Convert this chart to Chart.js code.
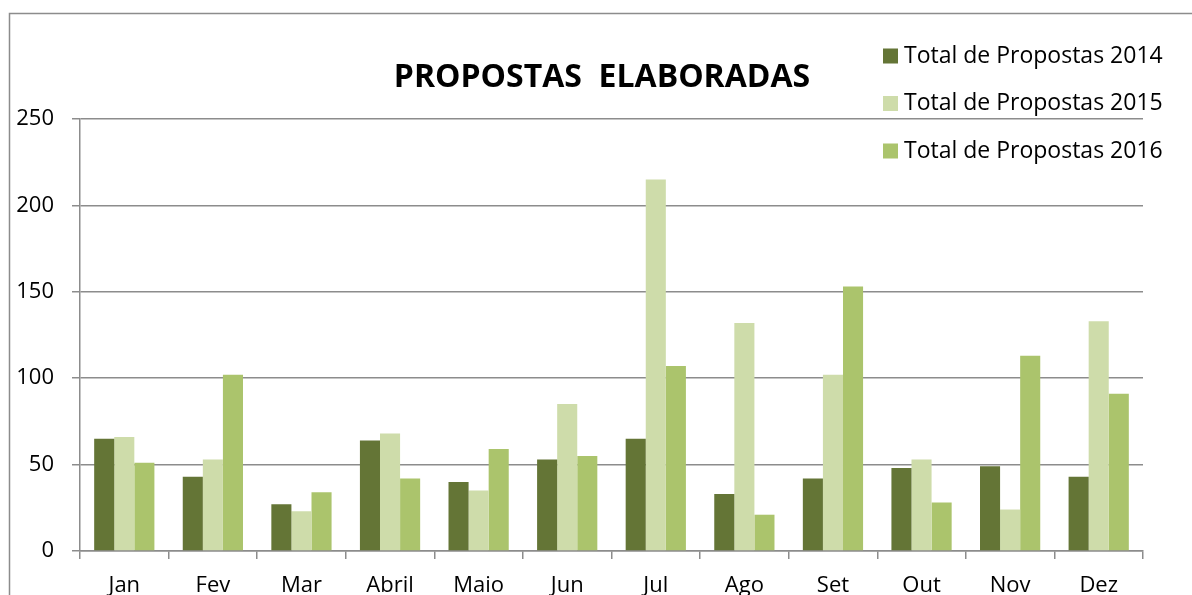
<!DOCTYPE html>
<html>
<head>
<meta charset="utf-8">
<script src="https://cdn.jsdelivr.net/npm/chart.js@4.4.0/dist/chart.umd.min.js"></script>
<style>
html, body { margin: 0; padding: 0; background: #fff; overflow: hidden; }
</style>
</head>
<body>
<canvas id="myChart" width="1192" height="620"></canvas>
<script>
// data
var meses = ['Jan', 'Fev', 'Mar', 'Abril', 'Maio', 'Jun', 'Jul', 'Ago', 'Set', 'Out', 'Nov', 'Dez'];
var total2014 = [65, 43, 27, 64, 40, 53, 65, 33, 42, 48, 49, 43];
var total2015 = [66, 53, 23, 68, 35, 85, 215, 132, 102, 53, 24, 133];
var total2016 = [51, 102, 34, 42, 59, 55, 107, 21, 153, 28, 113, 91];
var yTicks = [0, 50, 100, 150, 200, 250];

var fonte = '"Open Sans", "Noto Sans", sans-serif';
var cinza = '#8c8c8c';

// frame + title + legend drawn by hand
var extras = {
    id: 'extras',
    beforeDraw: function (chart) {
        var c = chart.ctx;
        c.save();
        c.strokeStyle = cinza;
        c.lineWidth = 1.5;
        c.beginPath();
        c.moveTo(9.5, chart.height);
        c.lineTo(9.5, 13.5);
        c.lineTo(chart.width, 13.5);
        c.stroke();
        c.restore();
    },
    afterDraw: function (chart) {
        var c = chart.ctx;
        c.save();
        c.fillStyle = '#000';
        c.font = 'bold 32px ' + fonte;
        c.textAlign = 'center';
        c.textBaseline = 'alphabetic';
        c.fillText('PROPOSTAS  ELABORADAS', 602, 87);

        c.font = '23px ' + fonte;
        c.textAlign = 'left';
        c.textBaseline = 'middle';
        chart.data.datasets.forEach(function (ds, i) {
            var y = 56 + i * 47.5;
            c.fillStyle = ds.backgroundColor;
            c.fillRect(883, y - 7.5, 15, 15);
            c.fillStyle = '#000';
            c.fillText(ds.label, 904, y);
        });
        c.restore();
    }
};

var ctx = document.getElementById('myChart').getContext('2d');
var chart = new Chart(ctx, {
    type: 'bar',
    data: {
        labels: meses,
        datasets: [
            { label: 'Total de Propostas 2014', data: total2014, backgroundColor: '#647536' },
            { label: 'Total de Propostas 2015', data: total2015, backgroundColor: '#cedcaa' },
            { label: 'Total de Propostas 2016', data: total2016, backgroundColor: '#abc46c' }
        ]
    },
    options: {
        responsive: false,
        animation: false,
        layout: { padding: { top: 119, right: 49, bottom: 0, left: 0 } },
        datasets: {
            bar: { categoryPercentage: 0.68, barPercentage: 1.0 }
        },
        plugins: {
            legend: { display: false },
            title: { display: false },
            tooltip: { enabled: false }
        },
        scales: {
            x: {
                afterFit: function (scale) { scale.height = 69; },
                grid: { drawOnChartArea: false, drawTicks: true, tickLength: 8, color: cinza, lineWidth: 1.5, offset: true },
                border: { color: cinza, width: 1.5 },
                ticks: { color: '#000', padding: 14, font: { family: fonte, size: 22 } }
            },
            y: {
                min: 0,
                max: 250,
                afterFit: function (scale) { scale.width = 80; },
                afterBuildTicks: function (scale) {
                    scale.ticks = yTicks.map(function (v) { return { value: v }; });
                },
                grid: { color: cinza, lineWidth: 1.5, tickLength: 8 },
                border: { color: cinza, width: 1.5 },
                ticks: { color: '#000', padding: 18, font: { family: fonte, size: 22 } }
            }
        }
    },
    plugins: [extras]
});
</script>
</body>
</html>
